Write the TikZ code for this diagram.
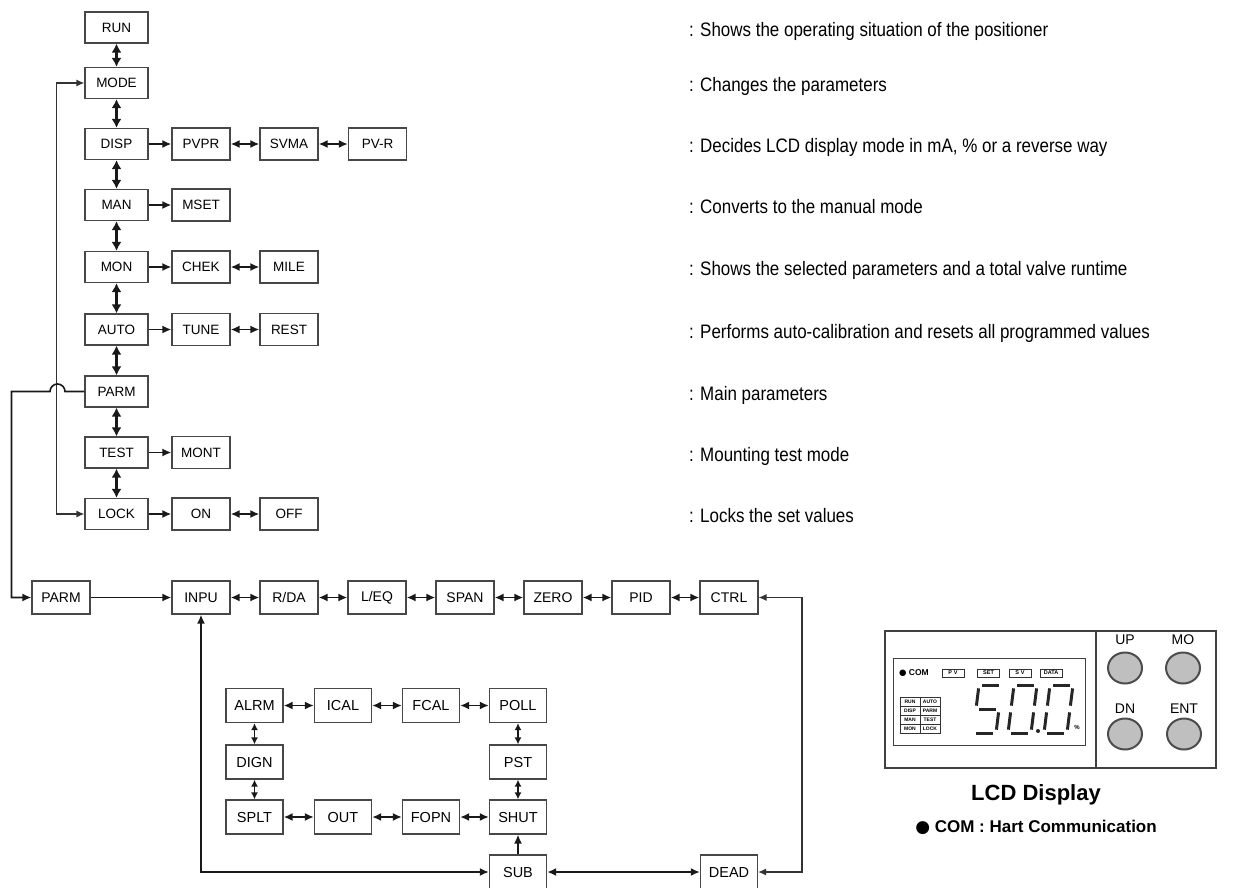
\documentclass[tikz,border=0pt]{standalone}
\usepackage{fontspec}
\setmainfont{Liberation Sans}
\newfontfamily\descfont[FakeStretch=0.87]{Liberation Sans}
\newfontfamily\dejavu{DejaVu Sans}
\usetikzlibrary{arrows.meta}
\newcommand\mysegA{\draw[seg] (0.14,1)--(0.86,1);}
\newcommand\mysegB{\draw[seg] (1,0.93)--(1,0.57);}
\newcommand\mysegC{\draw[seg] (1,0.43)--(1,0.07);}
\newcommand\mysegD{\draw[seg] (0.14,0)--(0.86,0);}
\newcommand\mysegE{\draw[seg] (0,0.43)--(0,0.07);}
\newcommand\mysegF{\draw[seg] (0,0.93)--(0,0.57);}
\newcommand\mysegG{\draw[seg] (0.14,0.5)--(0.86,0.5);}
\newcommand\segdigit[2]{\begin{scope}[shift={(#1,733)},x={(23pt,0pt)},y={(6pt,48pt)}]#2\end{scope}}
\begin{document}
\begin{tikzpicture}[x=1pt,y=-1pt,
  box/.style={draw=black!72, line width=1.2pt, fill=white, inner sep=0pt,
    minimum width=58pt, minimum height=32pt, font=\fontsize{13.5}{15}\selectfont},
  tbox/.style={box, minimum width=63pt, minimum height=31pt},
  bbox/.style={box, minimum height=33pt, font=\fontsize{14}{16}\selectfont},
  ibox/.style={box, minimum width=57pt, minimum height=34pt, font=\fontsize{14.5}{16}\selectfont},
  sarr/.style={-{Latex[length=9pt,width=8pt]}, line width=1.8pt, black!90},
  darr/.style={{Latex[length=9pt,width=8pt]}-{Latex[length=9pt,width=8pt]}, line width=1.8pt, black!90},
  varr/.style={{Latex[length=9pt,width=10pt]}-{Latex[length=9pt,width=10pt]}, line width=2.5pt, black!90},
  iarr/.style={{Latex[length=7pt,width=7pt]}-{Latex[length=7pt,width=7pt]}, line width=1.6pt, black!90},
  thin/.style={line width=1.2pt, black!80},
  thintips/.style={{Latex[length=8pt,width=7pt]}-{Latex[length=8pt,width=7pt]}},
  desc/.style={anchor=base west, inner sep=0pt, font=\descfont\fontsize{19.5}{22}\selectfont},
  seg/.style={line width=3pt, black!85},
  lbl/.style={draw=black!80, line width=0.6pt, inner sep=0.5pt, minimum width=22pt, minimum height=8pt,
    font=\bfseries\fontsize{5.5}{6}\selectfont},
  gcell/.style={draw=black!80, line width=0.6pt, inner sep=0pt, minimum width=20pt, minimum height=9pt,
    font=\bfseries\fontsize{5}{6}\selectfont},
  btn/.style={draw=black!70, line width=2pt, fill=black!25},
  panel/.style={draw=black!75, line width=1.2pt}
]
\useasboundingbox (0,0) rectangle (1236,887);

% ---- left column
\node[tbox] (RUN)  at (116.5,27.5) {RUN};
\node[tbox] (MODE) at (116.5,83) {MODE};
\node[tbox] (DISP) at (116.5,144) {DISP};
\node[tbox] (MAN)  at (116.5,205) {MAN};
\node[tbox] (MON)  at (116.5,267) {MON};
\node[tbox] (AUTO) at (116.5,329.5) {AUTO};
\node[tbox] (PARM) at (116.5,391.5) {PARM};
\node[tbox] (TEST) at (116.5,452.5) {TEST};
\node[tbox] (LOCK) at (116.5,514) {LOCK};

\node[box] (PVPR) at (201,144) {PVPR};
\node[box] (SVMA) at (289,144) {SVMA};
\node[box] (PVR)  at (377.5,144) {PV-R};
\node[box] (MSET) at (201,205) {MSET};
\node[box] (CHEK) at (201,267) {CHEK};
\node[box] (MILE) at (289,267) {MILE};
\node[box] (TUNE) at (201,329.5) {TUNE};
\node[box] (REST) at (289,329.5) {REST};
\node[box] (MONT) at (201,452.5) {MONT};
\node[box] (ON)   at (201,514) {ON};
\node[box] (OFF)  at (289,514) {OFF};

\draw[varr] (RUN.south) -- (MODE.north);
\draw[varr] (MODE.south) -- (DISP.north);
\draw[varr] (DISP.south) -- (MAN.north);
\draw[varr] (MAN.south) -- (MON.north);
\draw[varr] (MON.south) -- (AUTO.north);
\draw[varr] (AUTO.south) -- (PARM.north);
\draw[varr] (PARM.south) -- (TEST.north);
\draw[varr] (TEST.south) -- (LOCK.north);

\draw[sarr] (DISP.east) -- (PVPR.west);
\draw[darr] (PVPR.east) -- (SVMA.west);
\draw[darr] (SVMA.east) -- (PVR.west);
\draw[sarr] (MAN.east) -- (MSET.west);
\draw[sarr] (MON.east) -- (CHEK.west);
\draw[darr] (CHEK.east) -- (MILE.west);
\draw[sarr] (AUTO.east) -- (TUNE.west);
\draw[darr] (TUNE.east) -- (REST.west);
\draw[sarr] (TEST.east) -- (MONT.west);
\draw[sarr] (LOCK.east) -- (ON.west);
\draw[darr] (ON.east) -- (OFF.west);

% left loop MODE <-> LOCK
\draw[thin, thintips] (MODE.west) -- ++(-28,0) |- (LOCK.west);

% ---- bottom row
\node[bbox] (PARMB) at (61,597.5) {PARM};
\node[bbox] (INPU) at (201,597.5) {INPU};
\node[bbox] (RDA)  at (289,597.5) {R/DA};
\node[bbox] (LEQ)  at (377,597.5) {L/EQ};
\node[bbox] (SPAN) at (465,597.5) {SPAN};
\node[bbox] (ZERO) at (553,597.5) {ZERO};
\node[bbox] (PID)  at (641,597.5) {PID};
\node[bbox] (CTRL) at (729,597.5) {CTRL};

% PARM -> PARM (with hop over the loop line)
\draw[line width=1.6pt, black!90, -{Latex[length=9pt,width=8pt]}] (PARM.west) -- (65,391.5)
   arc[start angle=0, end angle=180, radius=7.5pt] -- (11.5,391.5) |- (PARMB.west);

\draw[sarr] (PARMB.east) -- (INPU.west);
\draw[darr] (INPU.east) -- (RDA.west);
\draw[darr] (RDA.east) -- (LEQ.west);
\draw[darr] (LEQ.east) -- (SPAN.west);
\draw[darr] (SPAN.east) -- (ZERO.west);
\draw[darr] (ZERO.east) -- (PID.west);
\draw[darr] (PID.east) -- (CTRL.west);

% ---- inner loop
\node[ibox] (ALRM) at (254.5,705.5) {ALRM};
\node[ibox] (ICAL) at (343,705.5) {ICAL};
\node[ibox] (FCAL) at (431,705.5) {FCAL};
\node[ibox] (POLL) at (518,705.5) {POLL};
\node[ibox] (DIGN) at (254.5,762) {DIGN};
\node[ibox] (PST)  at (518,762) {PST};
\node[ibox] (SPLT) at (254.5,817) {SPLT};
\node[ibox] (OUT)  at (343,817) {OUT};
\node[ibox] (FOPN) at (431,817) {FOPN};
\node[ibox] (SHUT) at (518,817) {SHUT};
\node[ibox] (SUB)  at (518,872) {SUB};
\node[ibox] (DEAD) at (729,872) {DEAD};

\draw[darr] (ALRM.east) -- (ICAL.west);
\draw[darr] (ICAL.east) -- (FCAL.west);
\draw[darr] (FCAL.east) -- (POLL.west);
\draw[darr] (SPLT.east) -- (OUT.west);
\draw[darr] (OUT.east) -- (FOPN.west);
\draw[darr] (FOPN.east) -- (SHUT.west);
\draw[iarr] (ALRM.south) -- (DIGN.north);
\draw[iarr] (DIGN.south) -- (SPLT.north);
\draw[iarr] (POLL.south) -- (PST.north);
\draw[iarr] (PST.south) -- (SHUT.north);
\draw[sarr, line width=1.6pt] (SUB.north) -- (SHUT.south);

\draw[darr] (INPU.south) |- (SUB.west);
\draw[darr] (SUB.east) -- (DEAD.west);
\draw[thin, thintips] (DEAD.east) -- (802,872) |- (CTRL.east);

% ---- descriptions
\node[desc] (d1) at (689,36.3) {: Shows the operating situation of the positioner};
\node[desc] (d2) at (689,91.8) {: Changes the parameters};
\node[desc] (d3) at (689,152.8) {: Decides LCD display mode in mA, \% or a reverse way};
\node[desc] (d4) at (689,213.8) {: Converts to the manual mode};
\node[desc] (d5) at (689,275.8) {: Shows the selected parameters and a total valve runtime};
\node[desc] (d6) at (689,338.3) {: Performs auto-calibration and resets all programmed values};
\node[desc] (d7) at (689,400.3) {: Main parameters};
\node[desc] (d8) at (689,461.3) {: Mounting test mode};
\node[desc] (d9) at (689,522.8) {: Locks the set values};

% ---- LCD panel
\draw[panel] (885,631) rectangle (1216,768);
\draw[panel] (1096,631) -- (1096,768);
\draw[panel, line width=1pt] (893,658) rectangle (1085,745);
\node[anchor=west, inner sep=0pt, font=\bfseries\fontsize{8.5}{10}\selectfont] (com) at (899,673) {{\dejavu\mdseries ●} COM};
\node[lbl] (pv)   at (953,673) {P\,\,V};
\node[lbl] (set)  at (988.5,673) {SET};
\node[lbl] (sv)   at (1020,673) {S\,\,V};
\node[lbl] (data) at (1051,673) {DATA};
\node[gcell] (gRUN)  at (910,702) {RUN};
\node[gcell] (gAUTO) at (930,702) {AUTO};
\node[gcell] (gDISP) at (910,711) {DISP};
\node[gcell] (gPARM) at (930,711) {PARM};
\node[gcell] (gMAN)  at (910,720) {MAN};
\node[gcell] (gTEST) at (930,720) {TEST};
\node[gcell] (gMON)  at (910,729) {MON};
\node[gcell] (gLOCK) at (930,729) {LOCK};
\segdigit{973}{\mysegA\mysegF\mysegG\mysegC\mysegD}
\segdigit{1008}{\mysegA\mysegB\mysegC\mysegD\mysegE\mysegF}
\segdigit{1044}{\mysegA\mysegB\mysegC\mysegD\mysegE\mysegF}
\fill[black!85] (1038,731) circle[radius=2pt];
\node[inner sep=0pt, font=\bfseries\fontsize{6}{7}\selectfont] (pct) at (1077,727) {\%};

\node[font=\fontsize{14}{16}\selectfont] (lup) at (1125,640) {UP};
\node[font=\fontsize{14}{16}\selectfont] (lmo) at (1183,640) {MO};
\node[font=\fontsize{14}{16}\selectfont] (ldn) at (1125,709) {DN};
\node[font=\fontsize{14}{16}\selectfont] (lent) at (1184,709) {ENT};
\draw[btn] (1125,668) ellipse[x radius=17pt, y radius=15.5pt];
\draw[btn] (1183,668) ellipse[x radius=17pt, y radius=15.5pt];
\draw[btn] (1125,734) ellipse[x radius=17pt, y radius=15.5pt];
\draw[btn] (1184,734) ellipse[x radius=17pt, y radius=15.5pt];

\node[font=\bfseries\fontsize{22}{26}\selectfont] (cap1) at (1036,795) {LCD Display};
\node[font=\bfseries\fontsize{17}{20}\selectfont] (cap2) at (1036,827) {{\dejavu\mdseries ●} COM : Hart Communication};
\end{tikzpicture}
\end{document}
